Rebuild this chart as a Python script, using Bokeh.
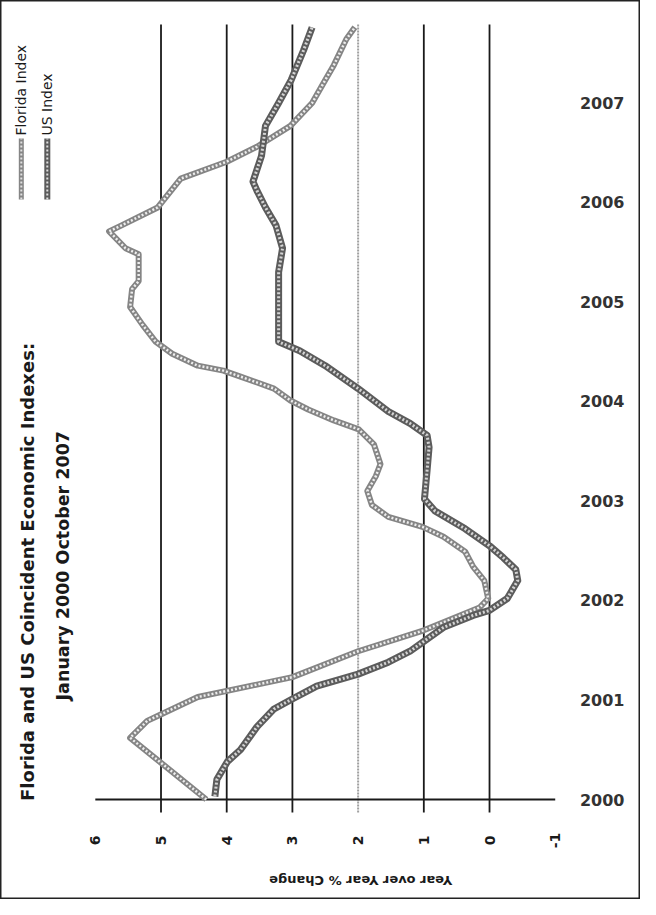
import math
from bokeh.plotting import figure
from bokeh.models import Range1d
from bokeh.core.properties import value
from bokeh.embed import file_html
from bokeh.resources import INLINE

# ---- data (decimal year, year-over-year % change) ----
fl_time = [2000.00, 2000.62, 2000.79, 2000.85, 2001.03, 2001.23, 2001.49, 2001.70,
           2001.93, 2002.02, 2002.20, 2002.34, 2002.49, 2002.64, 2002.74, 2002.84,
           2002.96, 2003.10, 2003.25, 2003.37, 2003.57, 2003.72, 2003.81, 2003.92,
           2004.01, 2004.13, 2004.25, 2004.31, 2004.36, 2004.48, 2004.60, 2004.77,
           2004.95, 2005.13, 2005.21, 2005.48, 2005.54, 2005.71, 2005.77, 2005.95,
           2006.24, 2006.41, 2006.56, 2006.77, 2007.00, 2007.23, 2007.38, 2007.64,
           2007.76]
fl_value = [4.31, 5.47, 5.21, 5.02, 4.44, 3.00, 2.00, 1.00,
            0.15, 0.02, 0.08, 0.25, 0.37, 0.70, 1.02, 1.54,
            1.79, 1.86, 1.73, 1.66, 1.76, 1.99, 2.37, 2.76,
            3.03, 3.28, 3.79, 4.05, 4.44, 4.83, 5.08, 5.28,
            5.47, 5.44, 5.34, 5.34, 5.54, 5.79, 5.60, 5.05,
            4.70, 4.00, 3.54, 3.03, 2.70, 2.50, 2.37, 2.18,
            2.05]

us_time = [2000.03, 2000.20, 2000.38, 2000.50, 2000.73, 2000.91, 2001.00, 2001.14,
           2001.26, 2001.38, 2001.49, 2001.58, 2001.73, 2001.85, 2001.90, 2002.02,
           2002.20, 2002.31, 2002.43, 2002.55, 2002.72, 2002.90, 2003.02, 2003.31,
           2003.54, 2003.66, 2003.78, 2003.90, 2004.13, 2004.36, 2004.51, 2004.60,
           2004.95, 2005.30, 2005.54, 2005.77, 2005.95, 2006.12, 2006.21, 2006.47,
           2006.77, 2007.00, 2007.23, 2007.53, 2007.76]
us_value = [4.18, 4.15, 3.99, 3.79, 3.54, 3.28, 3.03, 2.63,
            2.00, 1.54, 1.21, 1.02, 0.70, 0.25, 0.00, -0.27,
            -0.43, -0.40, -0.21, 0.00, 0.37, 0.83, 0.99, 0.95,
            0.92, 0.95, 1.21, 1.54, 2.00, 2.50, 2.89, 3.21,
            3.21, 3.21, 3.15, 3.25, 3.41, 3.54, 3.60, 3.47,
            3.41, 3.21, 3.02, 2.83, 2.70]

value_ticks = [6, 5, 4, 3, 2, 1, 0, -1]
value_labels = ["6", "5", "4", "3", "2", "1", "0", "-1"]
grid_solid = [5, 4, 3, 1, 0]
grid_dotted = [2]
year_ticks = [2000, 2001, 2002, 2003, 2004, 2005, 2006, 2007]
year_labels = [str(y) for y in year_ticks]

title_text = "Florida and US Coincident  Economic  Indexes:"
subtitle_text = "January 2000 October 2007"
axis_title = "Year over Year % Change"
series_names = ["Florida Index", "US Index"]

FONT = value("DejaVu Sans")
INK = "#1a1a1a"

# The chart is printed rotated a quarter turn: % change runs right-to-left,
# years run bottom-to-top.  The frame fills the whole canvas.
V0, V1 = 6, -1           # value-axis extent
T0, T1 = 2000, 2007.79   # time extent
XR = Range1d(7.443, -2.298)
YR = Range1d(1998.995, 2008.03)
PX_V = 640 / (XR.start - XR.end)     # px per % unit
PX_T = 899 / (YR.end - YR.start)     # px per year

p = figure(width=640, height=899, x_range=XR, y_range=YR,
           output_backend="svg", toolbar_location=None,
           min_border=0)
p.axis.visible = False
p.grid.visible = False
p.outline_line_color = "#222222"
p.outline_line_width = 2
p.background_fill_color = "white"
p.border_fill_color = "white"

tick_len = 13 / PX_T
# gridlines (extend below the axis line as tick marks)
p.segment(x0=grid_solid, x1=grid_solid, y0=[T0 - tick_len] * len(grid_solid),
          y1=[T1] * len(grid_solid), line_color=INK, line_width=1.8)
p.segment(x0=grid_dotted, x1=grid_dotted, y0=[T0 - tick_len] * len(grid_dotted),
          y1=[T1] * len(grid_dotted), line_color="#a0a0a0", line_width=2,
          line_dash="2 1")
# value axis line
p.segment(x0=[V0], x1=[V1], y0=[T0], y1=[T0], line_color=INK, line_width=1.8)

# value tick labels (rotated)
lab_y = T0 - 41 / PX_T
p.text(x=value_ticks, y=[lab_y] * len(value_ticks), text=value_labels,
       angle=math.pi / 2, text_align="center", text_baseline="middle",
       text_font=FONT, text_font_style="bold", text_font_size="14px",
       text_color=INK)
# axis title, upside down
p.text(x=[1.96], y=[T0 - 81 / PX_T], text=[axis_title], angle=math.pi,
       text_align="center", text_baseline="middle", text_font=FONT,
       text_font_style="bold", text_font_size="13px", text_color=INK)

# year labels on the right
year_x = V1 - 47 / PX_V
p.text(x=[year_x] * len(year_ticks), y=year_ticks, text=year_labels,
       text_align="center", text_baseline="middle", text_font=FONT,
       text_font_style="bold", text_font_size="16px", text_color="#333333")

# series lines: hatched look (dark outline + light dashed core)
def hatched(ts, vs, w_out, c_out, w_in, c_in):
    p.line(vs, ts, line_color=c_out, line_width=w_out, line_join="round")
    p.line(vs, ts, line_color=c_in, line_width=w_in, line_dash="2 2",
           line_join="round")

hatched(fl_time, fl_value, 6, "#858585", 2.5, "#eeeeee")
hatched(us_time, us_value, 7, "#5c5c5c", 3, "#d4d4d4")

# titles (rotated, reading upward)
title_x = V0 + (108 - 40) / PX_V
sub_x = V0 + (108 - 76) / PX_V
mid_t = T0 + 2.35
p.text(x=[title_x], y=[mid_t], text=[title_text], angle=math.pi / 2,
       text_align="center", text_baseline="middle", text_font=FONT,
       text_font_style="bold", text_font_size="18px", text_color=INK)
p.text(x=[sub_x], y=[mid_t], text=[subtitle_text], angle=math.pi / 2,
       text_align="center", text_baseline="middle", text_font=FONT,
       text_font_style="bold", text_font_size="17.5px", text_color=INK)

# legend: line sample below, label reading upward
leg_x = [V0 + (108 - 34) / PX_V, V0 + (108 - 60) / PX_V]
sample_bot = T0 + (807 - 207) / PX_T
sample_top = T0 + (807 - 146) / PX_T
leg_colors = ["#858585", "#5c5c5c"]
leg_widths = [5, 6]
for name, lx, c, w in zip(series_names, leg_x, leg_colors, leg_widths):
    p.line([lx, lx], [sample_bot, sample_top], line_color=c, line_width=w)
    p.line([lx, lx], [sample_bot, sample_top], line_color="#e0e0e0",
           line_width=2, line_dash="2 2")
p.text(x=leg_x, y=[sample_top + 3 / PX_T] * 2, text=series_names,
       angle=math.pi / 2, text_align="left", text_baseline="middle",
       text_font=FONT, text_font_size="14px", text_color=INK)

open("out.html", "w").write(file_html(p, INLINE))
